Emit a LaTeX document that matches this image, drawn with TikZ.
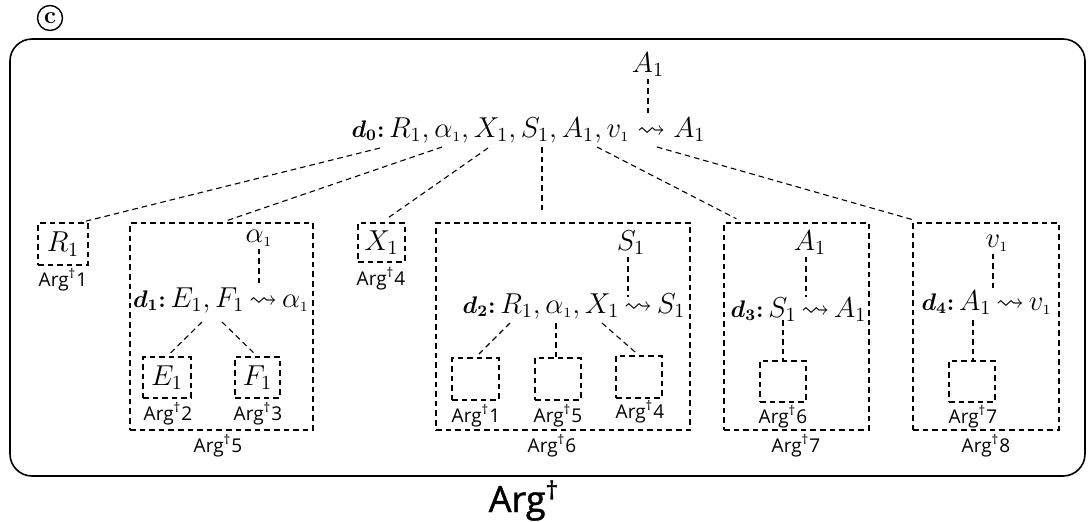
\documentclass[tikz,border=0pt]{standalone}
\usepackage{amsmath, amssymb}
\usepackage{fontspec}
\setsansfont{Open Sans}
\usetikzlibrary{calc}

\newcommand{\argd}[1]{\textsf{Arg\textsuperscript{†}#1}}
\newcommand{\lone}{{\scriptscriptstyle 1}}
\newcommand{\dname}[1]{{\fontsize{12}{14}\selectfont$\boldsymbol{d_{#1}}$\textbf{:}}\,}
\newcommand{\lto}{\,{\leadsto}\,}

\begin{document}
\begin{tikzpicture}[
  x=0.5pt, y=-0.5pt,
  dsh/.style={dash pattern=on 2.8pt off 2pt, line width=0.55pt},
  argbox/.style={draw, dsh, inner sep=0pt},
  arglab/.style={anchor=base, inner sep=0pt, font=\fontsize{9.5}{11}\selectfont},
  fml/.style={anchor=base, inner sep=1pt, font=\fontsize{14}{16}\selectfont}
]
  \useasboundingbox (0,0) rectangle (1091,521);

  % frame and caption
  \node[draw, line width=0.8pt, rounded corners=11pt, minimum width=537.5pt, minimum height=218.5pt] (frame) at (547.5,257.5) {};
  \node[circle, draw, line width=0.7pt, inner sep=0pt, minimum size=12.5pt, font=\large\bfseries] (cmark) at (50,18) {c};
  \node[anchor=base, font=\fontsize{18}{20}\sffamily\addfontfeature{FakeBold=1.2}] (argall) at (524,512) {Arg\textsuperscript{†}};

  % d0
  \node[fml] (a0) at (648,72) {$A_1$};
  \node[fml] (d0) at (528.5,137) {\dname{0}$R_1, \alpha_\lone, X_1, S_1, A_1, v_\lone \leadsto A_1$};
  \coordinate (d0to) at (648,116);
  \coordinate (d0R) at (380,148);
  \coordinate (d0a) at (442,147);
  \coordinate (d0X) at (488,148);
  \coordinate (d0S) at (542,147);
  \coordinate (d0A) at (597,147);
  \coordinate (d0v) at (657,147);

  % Arg 1 and Arg 4
  \node[argbox, minimum width=25pt, minimum height=21pt, font=\Large] (r1box) at (63,244) {$R_1$};
  \node[arglab] (lr1) at (63,286) {\argd{1}};
  \node[argbox, minimum width=23.5pt, minimum height=19.5pt, font=\Large] (x1box) at (381.5,242.5) {$X_1$};
  \node[arglab] (lx1) at (381,285) {\argd{4}};

  % Arg 5
  \node[argbox, minimum width=91.5pt, minimum height=103.5pt] (arg5) at (221.5,326.5) {};
  \node[arglab] (l5) at (218,452) {\argd{5}};
  \node[fml] (a5top) at (259,242) {$\alpha_\lone$};
  \node[fml] (d1) at (221,307) {\dname{1}$E_1, F_1\lto\alpha_\lone$};
  \coordinate (d1to) at (259,287);
  \coordinate (d1E) at (202,322);
  \coordinate (d1F) at (222,322);
  \node[argbox, minimum width=24pt, minimum height=20.5pt, font=\Large] (e1box) at (167,377.5) {$E_1$};
  \node[argbox, minimum width=22.5pt, minimum height=20.5pt, font=\Large] (f1box) at (257.5,377.5) {$F_1$};
  \node[arglab] (le1) at (168,420) {\argd{2}};
  \node[arglab] (lf1) at (258,420) {\argd{3}};

  % Arg 6
  \node[argbox, minimum width=127pt, minimum height=103.5pt] (arg6) at (563,326.5) {};
  \node[arglab] (l6) at (552,452) {\argd{6}};
  \node[fml] (s6top) at (631,250) {$S_1$};
  \node[fml] (d2) at (574,313) {\dname{2}$R_1, \alpha_\lone, X_1\lto S_1$};
  \coordinate (d2to) at (628,297);
  \coordinate (d2R) at (510,323);
  \coordinate (d2a) at (556,323);
  \coordinate (d2X) at (602,323);
  \node[argbox, minimum width=23.5pt, minimum height=21pt] (g1) at (475.5,379) {};
  \node[argbox, minimum width=23pt, minimum height=21pt] (g5) at (558,379) {};
  \node[argbox, minimum width=23pt, minimum height=21pt] (g4) at (639,377) {};
  \node[arglab] (lg1) at (476,422) {\argd{1}};
  \node[arglab] (lg5) at (558,422) {\argd{5}};
  \node[arglab] (lg4) at (640,418) {\argd{4}};

  % Arg 7
  \node[argbox, minimum width=72.5pt, minimum height=103.5pt] (arg7) at (796.5,326.5) {};
  \node[arglab] (l7) at (796,452) {\argd{7}};
  \node[fml] (a7top) at (810,250) {$A_1$};
  \node[fml] (d3) at (798.5,317) {\dname{3}$S_1\lto A_1$};
  \coordinate (d3to) at (806,297);
  \coordinate (d3S) at (783,320);
  \node[argbox, minimum width=23pt, minimum height=20.5pt] (g6) at (783,381.5) {};
  \node[arglab] (lg6) at (783,423) {\argd{6}};

  % Arg 8
  \node[argbox, minimum width=73pt, minimum height=103.5pt] (arg8) at (986,326.5) {};
  \node[arglab] (l8) at (986,452) {\argd{8}};
  \node[fml] (v8top) at (997,247) {$v_\lone$};
  \node[fml] (d4) at (986.5,310) {\dname{4}$A_1\lto v_\lone$};
  \coordinate (d4to) at (993,292);
  \coordinate (d4A) at (973,320);
  \node[argbox, minimum width=23pt, minimum height=20.5pt] (g7) at (972,381.5) {};
  \node[arglab] (lg7) at (973,423) {\argd{7}};

  % dashed links
  \draw[dsh] (a0) -- (d0to);
  \draw[dsh] (d0R) -- ([xshift=-4pt]r1box.north east);
  \draw[dsh, shorten >=3pt] (d0a) -- (arg5.north);
  \draw[dsh, shorten >=3pt] (d0X) -- (x1box.north);
  \draw[dsh, shorten >=5pt] (d0S) -- (d0S |- arg6.north);
  \draw[dsh, shorten >=4pt] (d0A) -- ([xshift=10pt]arg7.north west);
  \draw[dsh, shorten >=4pt] (d0v) -- ([xshift=5pt]arg8.north west);

  \draw[dsh] (a5top.south -| d1to) -- (d1to);
  \draw[dsh, shorten >=2pt] (d1E) -- (e1box.north);
  \draw[dsh, shorten >=2pt] (d1F) -- (f1box.north);

  \draw[dsh] (s6top.south -| d2to) -- (d2to);
  \draw[dsh, shorten >=2pt] (d2R) -- (g1.north);
  \draw[dsh] (d2a) -- (d2a |- g5.north);
  \draw[dsh, shorten >=2pt] (d2X) -- (g4.north);

  \draw[dsh] (a7top.south -| d3to) -- (d3to);
  \draw[dsh] (d3S) -- (g6.north);

  \draw[dsh] (v8top.south -| d4to) -- (d4to);
  \draw[dsh] (d4A) -- (d4A |- g7.north);
\end{tikzpicture}
\end{document}
